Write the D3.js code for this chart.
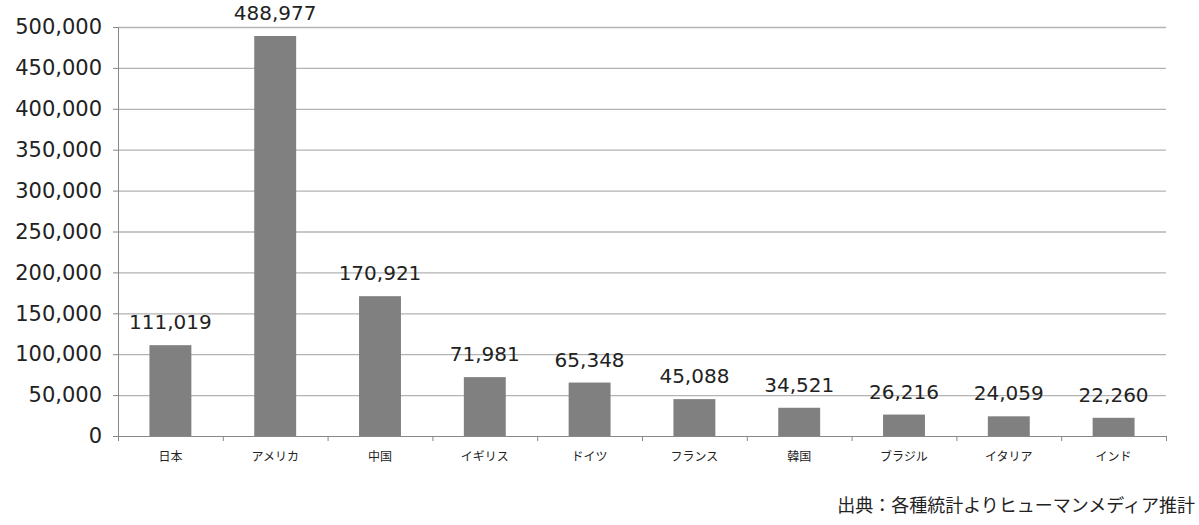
<!DOCTYPE html>
<html>
<head>
<meta charset="utf-8">
<script src="https://cdn.jsdelivr.net/npm/d3@7"></script>
<style>
  body { margin: 0; background: #fff; }
  svg text { font-family: "DejaVu Sans", "Noto Sans CJK JP", sans-serif; fill: #222; }
</style>
</head>
<body>
<svg id="chart" width="1199" height="525"></svg>
<script>
// data
const countries = ["日本", "アメリカ", "中国", "イギリス", "ドイツ", "フランス", "韓国", "ブラジル", "イタリア", "インド"];
const values = [111019, 488977, 170921, 71981, 65348, 45088, 34521, 26216, 24059, 22260];
const yTicks = [0, 50000, 100000, 150000, 200000, 250000, 300000, 350000, 400000, 450000, 500000];
const sourceNote = "出典：各種統計よりヒューマンメディア推計";

const margin = {top: 27, right: 33, bottom: 89, left: 118};
const W = 1199, H = 525;

const svg = d3.select("#chart");

const x = d3.scaleBand()
  .domain(countries)
  .range([margin.left, W - margin.right])
  .paddingInner(0.6)
  .paddingOuter(0.3);

const y = d3.scaleLinear()
  .domain([0, 500000])
  .range([H - margin.bottom, margin.top]);

// gridlines
svg.append("g")
  .selectAll("line")
  .data(yTicks.filter(d => d > 0))
  .join("line")
    .attr("x1", margin.left)
    .attr("x2", W - margin.right)
    .attr("y1", d => y(d) + 0.5)
    .attr("y2", d => y(d) + 0.5)
    .attr("stroke", "#b3b3b3")
    .attr("stroke-width", 1.3);

// bars
svg.append("g")
  .selectAll("rect")
  .data(values)
  .join("rect")
    .attr("x", (d, i) => x(countries[i]))
    .attr("width", x.bandwidth())
    .attr("y", d => y(d))
    .attr("height", d => y(0) - y(d))
    .attr("fill", "#808080");

// value labels
svg.append("g")
  .selectAll("text")
  .data(values)
  .join("text")
    .attr("x", (d, i) => x(countries[i]) + x.bandwidth() / 2)
    .attr("y", d => y(d) - 16)
    .attr("text-anchor", "middle")
    .attr("font-size", "20px")
    .text(d => d3.format(",")(d));

// y axis
const yAxis = svg.append("g")
  .attr("transform", `translate(${margin.left},0)`)
  .call(d3.axisLeft(y).tickValues(yTicks).tickFormat(d3.format(",")).tickSize(5).tickPadding(11));
yAxis.select(".domain").attr("stroke", "#888");
yAxis.selectAll(".tick line").attr("stroke", "#888");
yAxis.selectAll(".tick text")
  .attr("font-size", "21px")
  .attr("fill", "#222")
  .style("font-family", "'DejaVu Sans', sans-serif");

// x axis with ticks at band boundaries
const step = x.step();
const xAxis = svg.append("g")
  .attr("transform", `translate(0,${y(0)})`);
xAxis.append("line")
  .attr("x1", margin.left).attr("x2", W - margin.right)
  .attr("y1", 0.5).attr("y2", 0.5)
  .attr("stroke", "#888");
xAxis.selectAll(".bt")
  .data(d3.range(countries.length + 1))
  .join("line")
    .attr("class", "bt")
    .attr("x1", i => margin.left + i * step + 0.5)
    .attr("x2", i => margin.left + i * step + 0.5)
    .attr("y1", 0).attr("y2", 5)
    .attr("stroke", "#888");
xAxis.selectAll("text")
  .data(countries)
  .join("text")
    .attr("x", d => x(d) + x.bandwidth() / 2)
    .attr("y", 25)
    .attr("text-anchor", "middle")
    .attr("font-size", "12px")
    .style("font-family", "'Noto Sans CJK JP', sans-serif")
    .text(d => d);

// source note
svg.append("text")
  .attr("x", 1195)
  .attr("y", 512)
  .attr("text-anchor", "end")
  .attr("font-size", "18px")
  .style("font-family", "'Noto Sans CJK JP', sans-serif")
  .text(sourceNote);
</script>
</body>
</html>
